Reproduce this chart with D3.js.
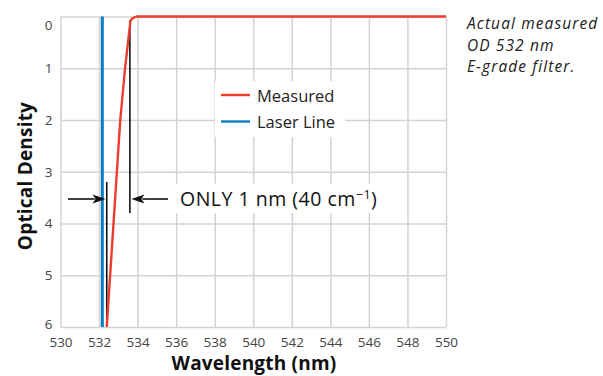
<!DOCTYPE html>
<html>
<head>
<meta charset="utf-8">
<script src="https://cdn.jsdelivr.net/npm/d3@7/dist/d3.min.js"></script>
<style>
  html, body { margin: 0; padding: 0; background: #fff; }
  svg { display: block; font-family: "Open Sans", Lato, sans-serif; }
</style>
</head>
<body>
<svg id="chart" width="603" height="376"></svg>
<script>
// Measured transmission edge of the OD 532 nm E-grade filter
const measuredWavelength = [532.4, 533.1, 533.35, 533.63, 533.75, 533.95, 550];
const measuredOD         = [6,     2,     1,      0.08,   0.03,   0,      0];

// Laser line position
const laserWavelength = [532.17, 532.17];
const laserOD         = [0, 6];

// Edge markers for the "ONLY 1 nm" annotation
const edgeMarkers = [532.4, 533.6];

const xTicks = [530, 532, 534, 536, 538, 540, 542, 544, 546, 548, 550];
const yTicks = [0, 1, 2, 3, 4, 5, 6];

const legendItems = [
  { label: "Measured",   color: "#ef3b2c" },
  { label: "Laser Line", color: "#0a7cc3" }
];
const noteLines = ["Actual measured", "OD 532 nm", "E-grade filter."];

const svg = d3.select("#chart");
const plot = { left: 60.5, right: 446, top: 16.5, bottom: 327 };

const x = d3.scaleLinear().domain([530, 550]).range([plot.left, plot.right]);
const y = d3.scaleLinear().domain([0, 6]).range([plot.top, plot.bottom]);

const gridColor = "#d3d3d3";
const font = "'Open Sans', Lato, sans-serif";

// Vertical grid + x tick labels
const gx = svg.append("g")
  .attr("transform", `translate(0,${plot.bottom})`)
  .call(d3.axisBottom(x).tickValues(xTicks).tickFormat(d3.format("d"))
    .tickSize(-(plot.bottom - plot.top)).tickPadding(10));
gx.select(".domain").remove();
gx.selectAll(".tick line").attr("stroke", gridColor).attr("stroke-width", 1.5);
gx.selectAll(".tick text").attr("fill", "#444").attr("font-size", 13.5)
  .attr("font-family", font);

// Horizontal grid + y tick labels
const gy = svg.append("g")
  .attr("transform", `translate(${plot.left},0)`)
  .call(d3.axisLeft(y).tickValues(yTicks).tickFormat(d3.format("d"))
    .tickSize(-(plot.right - plot.left)).tickPadding(8));
gy.select(".domain").remove();
gy.selectAll(".tick line").attr("stroke", gridColor).attr("stroke-width", 1.5);
gy.selectAll(".tick text").attr("fill", "#444").attr("font-size", 13.5)
  .attr("font-family", font)
  .attr("dy", d => d === 0 ? "0.95em" : d === 6 ? "0.1em" : "0.32em");

// White panels behind legend and annotation text
svg.append("rect").attr("x", 215).attr("y", 81).attr("width", 130).attr("height", 56).attr("fill", "#fff");
svg.append("rect").attr("x", 172).attr("y", 183.5).attr("width", 208).attr("height", 29.5).attr("fill", "#fff");

// Laser line
const line = d3.line().x(d => x(d[0])).y(d => y(d[1]));
svg.append("path")
  .datum(d3.zip(laserWavelength, laserOD))
  .attr("d", line).attr("fill", "none")
  .attr("stroke", legendItems[1].color).attr("stroke-width", 3);

// Edge markers
svg.append("line")
  .attr("x1", x(edgeMarkers[0])).attr("x2", x(edgeMarkers[0]))
  .attr("y1", 182).attr("y2", y(6))
  .attr("stroke", "#111").attr("stroke-width", 1.6);
svg.append("line")
  .attr("x1", x(edgeMarkers[1])).attr("x2", x(edgeMarkers[1]))
  .attr("y1", y(0.08)).attr("y2", 213)
  .attr("stroke", "#111").attr("stroke-width", 1.6);

// Measured curve
svg.append("path")
  .datum(d3.zip(measuredWavelength, measuredOD))
  .attr("d", line).attr("fill", "none")
  .attr("stroke", legendItems[0].color).attr("stroke-width", 2.4)
  .attr("stroke-linejoin", "round");

// Arrows pointing at the edge markers
const arrowY = 199;
function arrow(tipX, dir, tailX) {
  const headLen = 13, half = 4.5;
  svg.append("line")
    .attr("x1", tailX).attr("x2", tipX - dir * headLen + dir * 2)
    .attr("y1", arrowY).attr("y2", arrowY)
    .attr("stroke", "#111").attr("stroke-width", 1.6);
  svg.append("path")
    .attr("d", `M${tipX},${arrowY} L${tipX - dir * headLen},${arrowY - half} L${tipX - dir * (headLen - 3)},${arrowY} L${tipX - dir * headLen},${arrowY + half} Z`)
    .attr("fill", "#111");
}
arrow(x(edgeMarkers[0]) - 1.2, 1, 68);
arrow(x(edgeMarkers[1]) + 1.5, -1, 168);

// Annotation text
const ann = svg.append("text")
  .attr("x", 180).attr("y", 206)
  .attr("font-size", 19.5).attr("letter-spacing", 0.5).attr("fill", "#111");
ann.append("tspan").text("ONLY 1 nm (40 cm");
ann.append("tspan").attr("font-size", 12.5).attr("dy", -7).text("−1");
ann.append("tspan").attr("dy", 7).text(")");

// Legend
const leg = svg.append("g");
legendItems.forEach((item, i) => {
  const ly = 95 + i * 26.5;
  leg.append("line").attr("x1", 221).attr("x2", 250).attr("y1", ly).attr("y2", ly)
    .attr("stroke", item.color).attr("stroke-width", 2.4);
  leg.append("text").attr("x", 257).attr("y", ly + 6.5)
    .attr("font-size", 16.5).attr("fill", "#222").text(item.label);
});

// Side note
svg.append("g").selectAll("text").data(noteLines).join("text")
  .attr("x", 467).attr("y", (d, i) => 29 + i * 21.5)
  .attr("font-size", 15.5).attr("letter-spacing", 1.1)
  .attr("font-style", "italic").attr("fill", "#222")
  .text(d => d);

// Axis titles
svg.append("text")
  .attr("x", 254).attr("y", 370)
  .attr("text-anchor", "middle").attr("font-size", 19).attr("font-weight", "bold")
  .attr("letter-spacing", 0.2)
  .attr("fill", "#111").text("Wavelength (nm)");
svg.append("text")
  .attr("transform", `translate(32,176) rotate(-90)`)
  .attr("text-anchor", "middle").attr("font-size", 19).attr("font-weight", "bold")
  .attr("letter-spacing", 0.2)
  .attr("fill", "#111").text("Optical Density");
</script>
</body>
</html>
